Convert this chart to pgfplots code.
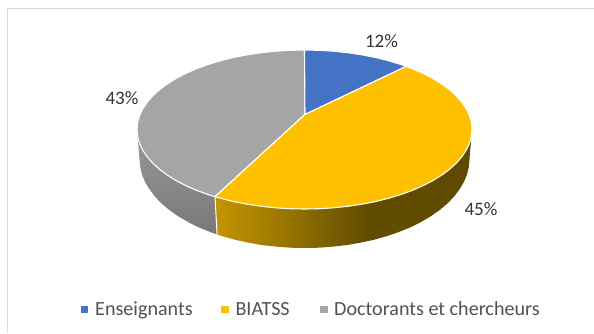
\documentclass[border=0pt]{standalone}
\usepackage{pgfplots}
\pgfplotsset{compat=1.18}
\usepackage{fontspec}
\setmainfont{Carlito}
\definecolor{cblue}{HTML}{4472C4}
\definecolor{cyellow}{HTML}{FFC000}
\definecolor{cgray}{HTML}{A5A5A5}
\definecolor{frameg}{HTML}{D9D9D9}
\pgfdeclarehorizontalshading{yellowwall}{100bp}{
 rgb(0bp)=(0.77,0.584,0);
 rgb(25bp)=(0.77,0.584,0);
 rgb(39.6bp)=(0.58,0.45,0);
 rgb(54.6bp)=(0.385,0.30,0);
 rgb(75bp)=(0.37,0.29,0);
 rgb(100bp)=(0.37,0.29,0)}
\begin{document}
\begin{tikzpicture}
\begin{axis}[
  width=594pt, height=333pt, scale only axis, hide axis,
  xmin=0, xmax=594, ymin=0, ymax=333, y dir=reverse,
  clip=false,
  every axis plot/.append style={mark=none, line join=round},
]
% frame
\addplot[draw=frameg, line width=1.1pt] coordinates {(7.5,333) (7.5,8.5) (594,8.5)};
% gray wall
\addplot[draw=none, left color=black!40, right color=black!53, shading angle=0] coordinates {
(137,129.5) (139.5,159) (140.1,166.8) (142.0,174.5) (145.1,182.0) (149.5,189.4) (155.0,196.6)
(161.6,203.5) (169.3,210.0) (178.1,216.2) (187.8,221.9) (198.4,227.2) (209.9,231.9) (217.1,234.5)
(215,196.7) (137,129.5)};
% yellow wall
\addplot[draw=none, shading=yellowwall] coordinates {
(472,129.5) (469.5,159) (468.9,166.8) (467.0,174.5) (463.9,182.0) (459.5,189.4) (454.0,196.6)
(447.4,203.5) (439.7,210.0) (430.9,216.2) (421.2,221.9) (410.6,227.2) (399.1,231.9) (387.0,236.1)
(374.2,239.7) (360.9,242.6) (347.2,245.0) (333.1,246.6) (318.9,247.7) (304.5,248) (290.1,247.7)
(275.9,246.6) (261.8,245.0) (248.1,242.6) (234.8,239.7) (222.0,236.1) (217.1,234.5) (215,196.7)
(472,129.5)};
\addplot[draw=white, line width=1pt] coordinates {(215,196.7) (217.1,234.5)};
% gray top
\addplot[fill=cgray, draw=white, line width=1.1pt] coordinates {
(305,114.3) (215,196.7) (208.4,194.6) (196.8,190.4) (186.0,185.7) (176.2,180.6) (167.3,175.1)
(159.4,169.25) (152.7,163.1) (147.1,156.7) (142.7,150.1) (139.5,143.3) (137.6,136.4) (137,129.5)
(137.6,122.6) (139.5,115.7) (142.7,108.9) (147.1,102.3) (152.7,95.9) (159.4,89.75) (167.3,83.9)
(176.2,78.4) (186.0,73.3) (196.8,68.6) (208.4,64.4) (220.75,60.65) (233.7,57.4) (247.2,54.8)
(261.2,52.7) (275.4,51.2) (289.9,50.3) (304.5,50) (305,114.3)};
% yellow top
\addplot[fill=cyellow, draw=white, line width=1.1pt] coordinates {
(305,114.3) (406,66.3) (412.2,68.6) (423.0,73.3) (432.8,78.4) (441.7,83.9) (449.6,89.75) (456.3,95.9)
(461.9,102.3) (466.3,108.9) (469.5,115.7) (471.4,122.6) (472,129.5) (471.4,136.4) (469.5,143.3)
(466.3,150.1) (461.9,156.7) (456.3,163.1) (449.6,169.25) (441.7,175.1) (432.8,180.6) (423,185.7)
(412.2,190.4) (400.6,194.6) (388.25,198.35) (375.3,201.6) (361.8,204.2) (347.8,206.3) (333.6,207.8)
(319.1,208.7) (304.5,209) (289.9,208.7) (275.4,207.8) (261.2,206.3) (247.2,204.2) (233.7,201.6)
(220.75,198.35) (215,196.7) (305,114.3)};
% blue top
\addplot[fill=cblue, draw=white, line width=1.1pt] coordinates {
(305,114.3) (304.5,50) (319.1,50.3) (333.6,51.2) (347.8,52.7) (361.8,54.8) (375.3,57.4)
(388.25,60.65) (400.6,64.4) (406,66.3) (305,114.3)};
% legend markers
\addplot[only marks, mark=square*, mark size=3.3pt, mark options={draw=cblue, fill=cblue}, draw=none] coordinates {(84,309.2)};
\addplot[only marks, mark=square*, mark size=3.3pt, mark options={draw=cyellow, fill=cyellow}, draw=none] coordinates {(224.4,309.2)};
\addplot[only marks, mark=square*, mark size=3.3pt, mark options={draw=cgray, fill=cgray}, draw=none] coordinates {(323.4,309.2)};
% texts
\node[text=black!80, font=\fontsize{19}{21}\selectfont, anchor=center] at (axis cs:381.5,41) {12\%};
\node[text=black!80, font=\fontsize{19}{21}\selectfont, anchor=center] at (axis cs:122,98) {43\%};
\node[text=black!80, font=\fontsize{19}{21}\selectfont, anchor=center] at (axis cs:481,209) {45\%};
\node[text=black!68, font=\fontsize{20.1}{22}\selectfont, anchor=base west, inner sep=0pt] at (axis cs:95,315) {Enseignants};
\node[text=black!68, font=\fontsize{20.1}{22}\selectfont, anchor=base west, inner sep=0pt] at (axis cs:235.3,315) {BIATSS};
\node[text=black!68, font=\fontsize{20.1}{22}\selectfont, anchor=base west, inner sep=0pt] at (axis cs:334,315) {Doctorants et chercheurs};
\end{axis}
\pgfresetboundingbox
\path[use as bounding box] (0,0) rectangle (594pt,333pt);
\end{tikzpicture}
\end{document}
